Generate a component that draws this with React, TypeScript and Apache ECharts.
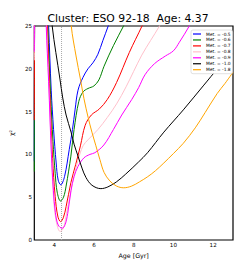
import React, { useEffect, useRef } from "react";
import * as echarts from "echarts";

const titleText = "Cluster: ESO 92-18  Age: 4.37";
const bestAge = 4.37;
const metLabels = ["Met. = -0.5", "Met. = -0.6", "Met. = -0.7", "Met. = -0.8", "Met. = -0.9", "Met. = -1.0", "Met. = -1.8"];
const colors = ["#0000ff", "#008000", "#ff0000", "#ffc0cb", "#ff00ff", "#000000", "#ffa500"];
const xTicks = [4, 6, 8, 10, 12];

const met05 = [
  [3.0, 9.2], [3.07, 35], [3.55, 35], [3.72, 25], [3.85, 17.5], [3.97, 12.9], [4.1, 9.0], [4.2, 7.0],
  [4.33, 6.45], [4.52, 7.4], [4.76, 10.6], [4.92, 12.9], [5.05, 15.2], [5.2, 17.5], [5.45, 19.0],
  [5.7, 20.0], [5.95, 20.7], [6.2, 21.7], [6.45, 23.3], [6.72, 25], [6.9, 26.2],
];
const met06 = [
  [3.0, 8.0], [3.07, 35], [3.55, 35], [3.68, 25], [3.82, 17], [3.94, 11.5], [4.05, 7.8], [4.15, 5.6],
  [4.32, 4.55], [4.47, 5.0], [4.6, 6.3], [4.84, 9.8], [5.0, 12.9], [5.24, 16.2], [5.45, 17.3],
  [5.7, 17.7], [6.0, 18.0], [6.25, 18.7], [6.51, 20.3], [6.98, 22.7], [7.49, 25], [7.7, 26],
];
const met07 = [
  [3.0, 14.0], [3.1, 35], [3.55, 35], [3.66, 25], [3.8, 16], [3.92, 9.5], [4.05, 5.1], [4.18, 2.8],
  [4.32, 2.15], [4.46, 2.6], [4.6, 3.9], [4.84, 6.7], [5.08, 8.8], [5.32, 11.0], [5.56, 13.4],
  [5.87, 14.6], [6.27, 15.3], [6.67, 16.4], [7.14, 18.4], [7.78, 21.9], [8.42, 25], [8.6, 26],
];
const met08 = [
  [3.0, 21.0], [3.08, 35], [3.5, 35], [3.62, 25], [3.75, 17], [3.86, 10.5], [3.95, 5.5], [4.1, 2.2],
  [4.3, 1.0], [4.45, 1.3], [4.6, 2.8], [4.9, 6.5], [5.2, 9.3], [5.45, 11.0], [5.7, 11.7],
  [6.2, 12.9], [6.67, 14.3], [7.14, 15.9], [7.62, 17.9], [8.0, 19.7], [8.41, 21.6], [8.85, 23.3],
  [9.3, 25], [9.5, 26],
];
const met09 = [
  [3.0, 22.0], [3.08, 35], [3.5, 35], [3.6, 25], [3.72, 18.5], [3.86, 10], [3.96, 5.8], [4.06, 3.2],
  [4.2, 1.75], [4.4, 1.37], [4.55, 1.8], [4.68, 3.1], [4.85, 5.8], [5.0, 7.4], [5.2, 8.6],
  [5.5, 9.6], [5.8, 10.0], [6.05, 10.2], [6.5, 11.1], [6.98, 12.9], [7.4, 14.6], [7.9, 16.4],
  [8.25, 17.8], [8.57, 19.3], [9.05, 20.6], [9.6, 21.5], [10.0, 22.1], [10.3, 23.1], [10.8, 25], [11.0, 26],
];
const met10 = [
  [3.5, 35], [3.9, 25], [4.29, 18.8], [4.43, 16.6], [4.6, 14.6], [4.85, 12.6], [5.0, 11.2],
  [5.2, 9.8], [5.4, 8.4], [5.6, 7.3], [5.9, 6.4], [6.35, 6.0], [6.7, 6.2], [7.14, 6.8],
  [7.6, 7.7], [8.24, 9.1], [8.7, 10.2], [9.52, 12.6], [10.5, 15.2], [11.5, 18.0], [12.3, 20.2], [13.0, 21.8],
];
const met18 = [
  [4.6, 33], [4.86, 25], [5.1, 21.5], [5.32, 18.8], [5.5, 16.5], [5.71, 14.3], [5.9, 12.6],
  [6.1, 11.0], [6.3, 9.4], [6.51, 7.9], [6.8, 6.9], [7.14, 6.3], [7.5, 6.1], [7.9, 6.3],
  [8.3, 6.8], [8.71, 7.4], [9.1, 8.1], [9.52, 9.0], [10.0, 10.1], [10.5, 11.3], [11.1, 13.1],
  [11.6, 14.9], [12.2, 17.1], [12.6, 18.3], [13.0, 19.6],
];
const seriesData = [met05, met06, met07, met08, met09, met10, met18];

export default function App() {
  const ref = useRef<HTMLDivElement>(null);
  useEffect(() => {
    if (!ref.current) return;
    const chart = echarts.init(ref.current, null, { renderer: "svg" });
    const series: any[] = seriesData.map((d, i) => ({
      name: metLabels[i],
      type: "line",
      data: d,
      smooth: 0.35,
      showSymbol: false,
      symbol: "none",
      clip: true,
      lineStyle: { color: colors[i], width: 1 },
      itemStyle: { color: colors[i] },
      z: 3,
    }));
    series.unshift({
      name: "best",
      type: "line",
      data: [[bestAge, 0], [bestAge, 25]],
      showSymbol: false,
      symbol: "none",
      lineStyle: { color: "#aaaaaa", width: 1, type: "dotted" },
      z: 2,
    });
    chart.setOption({
      animation: false,
      backgroundColor: "#ffffff",
      title: {
        text: titleText,
        left: 128,
        textAlign: "center",
        top: 13,
        textStyle: { fontFamily: "DejaVu Sans", fontSize: 10.8, fontWeight: "normal", color: "#000" },
        padding: 0,
      },
      grid: { left: 23, right: 12, top: 26, bottom: 27, show: true, borderColor: "#000", borderWidth: 1.2, backgroundColor: "transparent" },
      legend: {
        data: metLabels,
        orient: "vertical",
        left: 191,
        top: 30,
        icon: "rect",
        itemWidth: 8,
        itemHeight: 1.2,
        itemGap: 0.95,
        padding: [1.5, 2, 1.5, 2],
        backgroundColor: "#ffffff",
        borderColor: "#cccccc",
        borderWidth: 0.6,
        borderRadius: 2,
        textStyle: { fontFamily: "DejaVu Sans", fontSize: 4.4, lineHeight: 5, color: "#000" },
      },
      xAxis: {
        type: "value",
        min: 3,
        max: 13,
        interval: 1,
        name: "Age [Gyr]",
        nameLocation: "middle",
        nameGap: 8.5,
        nameTextStyle: { fontFamily: "DejaVu Sans", fontSize: 6.3, color: "#000" },
        axisLine: { show: false },
        axisTick: { show: false },
        splitLine: { show: false },
        axisLabel: {
          margin: 2,
          fontFamily: "DejaVu Sans",
          fontSize: 5.6,
          color: "#000",
          formatter: (v: number) => (xTicks.indexOf(v) >= 0 ? String(v) : ""),
        },
      },
      yAxis: {
        type: "value",
        min: 0,
        max: 25,
        interval: 5,
        name: "χ²",
        nameLocation: "middle",
        nameRotate: 90,
        nameGap: 13,
        nameTextStyle: { fontFamily: "DejaVu Sans", fontSize: 6.3, color: "#000" },
        axisLine: { show: false },
        axisTick: { show: false },
        splitLine: { show: false },
        axisLabel: { margin: 2.3, fontFamily: "DejaVu Sans", fontSize: 5.6, color: "#000" },
      },
      series,
    });
    return () => chart.dispose();
  }, []);
  return <div ref={ref} style={{ width: 245, height: 267, position: "absolute", left: 0, top: 0 }} />;
}
